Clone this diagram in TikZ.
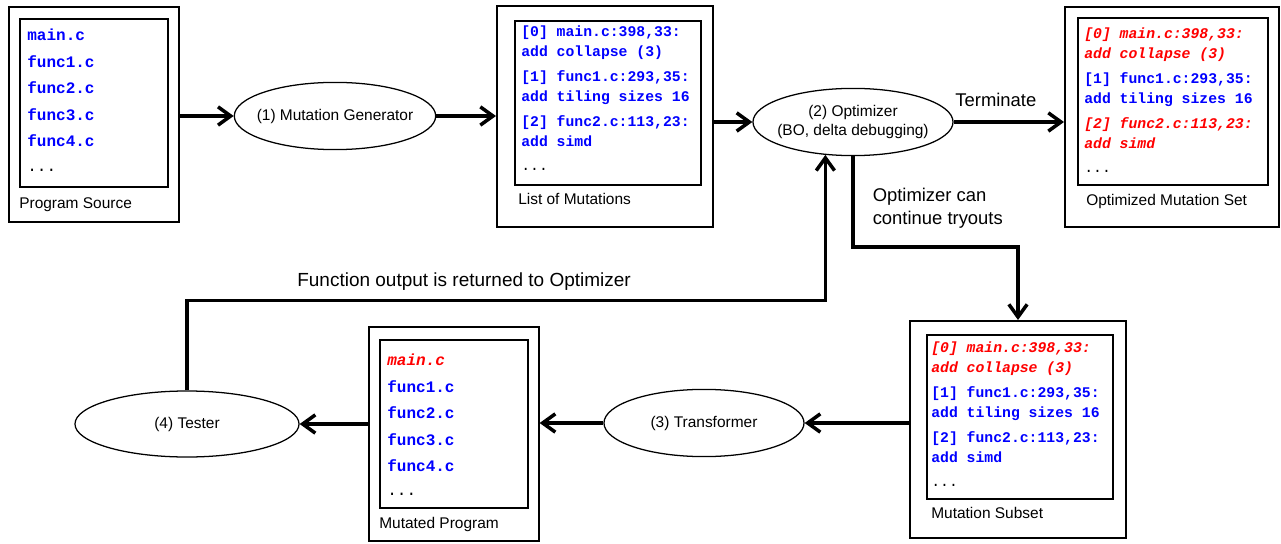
\documentclass[tikz,border=0pt]{standalone}
\usepackage{fontspec}
\setmainfont{Liberation Sans}
\newfontfamily\codefamily{Liberation Mono}
\usetikzlibrary{arrows.meta,shapes.geometric,positioning}

\definecolor{codeblue}{RGB}{0,0,255}
\definecolor{codered}{RGB}{255,0,0}

% blue = mutation listed, red = mutation applied
\newcommand{\listed}[1]{\textcolor{codeblue}{\bfseries #1}}
\newcommand{\applied}[1]{\textcolor{codered}{\bfseries\itshape #1}}

\begin{document}
\begin{tikzpicture}[x=0.025cm, y=-0.025cm,
    frame/.style={draw, line width=1.4pt, inner sep=0pt},
    thinframe/.style={frame, line width=0.9pt},
    pane/.style={draw, line width=1.1pt, inner sep=0pt},
    stage/.style={draw, ellipse, line width=0.9pt, inner ysep=0pt, inner xsep=-5pt, minimum width=5cm, minimum height=1.68cm, align=center, font=\fontsize{11}{14.2}\selectfont},
    listing/.style={anchor=north west, inner sep=0pt, align=left, font=\codefamily\fontsize{10.5}{14.2}\selectfont},
    files/.style={listing, font=\codefamily\fontsize{11.4}{18.8}\selectfont},
    caption/.style={anchor=base west, inner sep=0pt, font=\fontsize{11}{13}\selectfont},
    note/.style={inner sep=0pt, align=left, font=\fontsize{13.1}{16.3}\selectfont},
    flow/.style={-{Straight Barb[length=9pt,width=13pt]}, line width=2.5pt}
]
\useasboundingbox (0,0) rectangle (1281,544);

% top row
\node[thinframe, minimum width=4.25cm, minimum height=5.375cm] (src) at (94,114.5) {};
\node[pane, minimum width=3.7cm, minimum height=4.2cm] (srcPane) at (94,103) {};
\node[files] (srcCode) at (27,29) {\listed{main.c}\\\listed{func1.c}\\\listed{func2.c}\\\listed{func3.c}\\\listed{func4.c}\\[-0.8pt]...};
\node[caption] (srcCap) at (19,208.5) {Program Source};

\node[stage] (gen) at (335,116) {(1) Mutation Generator};

\node[frame, minimum width=5.4cm, minimum height=5.525cm] (list) at (605,116.5) {};
\node[pane, minimum width=4.65cm, minimum height=4.1cm] (listPane) at (608,103) {};
\node[listing] (listCode) at (521,26) {\listed{[0] main.c:398,33:}\\\listed{add collapse (3)}\\[3.3pt]
  \listed{[1] func1.c:293,35:}\\\listed{add tiling sizes 16}\\[3.3pt]
  \listed{[2] func2.c:113,23:}\\\listed{add simd}\\[2.8pt]...};
\node[caption] (listCap) at (518,204.5) {List of Mutations};

\node[stage] (opt) at (853,122) {(2) Optimizer\\(BO, delta debugging)};

\node[frame, minimum width=5.35cm, minimum height=5.5cm] (best) at (1172,117) {};
\node[pane, minimum width=4.75cm, minimum height=4.175cm] (bestPane) at (1173,101.5) {};
\node[listing] (bestCode) at (1084,28) {\applied{[0] main.c:398,33:}\\\applied{add collapse (3)}\\[3.3pt]
  \listed{[1] func1.c:293,35:}\\\listed{add tiling sizes 16}\\[3.3pt]
  \applied{[2] func2.c:113,23:}\\\applied{add simd}\\[2.8pt]...};
\node[caption] (bestCap) at (1086,205.5) {Optimized Mutation Set};

% bottom row
\node[frame, minimum width=5.4cm, minimum height=5.425cm] (sub) at (1018,429.5) {};
\node[pane, minimum width=4.65cm, minimum height=4.1cm] (subPane) at (1020,417) {};
\node[listing] (subCode) at (931,342) {\applied{[0] main.c:398,33:}\\\applied{add collapse (3)}\\[3.3pt]
  \listed{[1] func1.c:293,35:}\\\listed{add tiling sizes 16}\\[3.3pt]
  \listed{[2] func2.c:113,23:}\\\listed{add simd}\\[2.8pt]...};
\node[caption] (subCap) at (931,518.5) {Mutation Subset};

\node[stage] (trans) at (704,423) {(3) Transformer};

\node[thinframe, minimum width=4.25cm, minimum height=5.35cm] (mut) at (454,434) {};
\node[pane, minimum width=3.7cm, minimum height=4.2cm] (mutPane) at (454,424) {};
\node[files] (mutCode) at (387,354) {\applied{main.c}\\\listed{func1.c}\\\listed{func2.c}\\\listed{func3.c}\\\listed{func4.c}\\[-1.5pt]...};
\node[caption] (mutCap) at (379,528.5) {Mutated Program};

\node[stage, minimum width=5.6cm, minimum height=1.65cm] (tst) at (187,424) {(4) Tester};

% connectors
\draw[flow] (src.east |- gen) -- (gen);
\draw[flow] (gen) -- (list.west |- gen);
\draw[flow] (list.east |- opt) -- (opt);
\draw[flow] (opt) -- node[note, anchor=south west, pos=0, yshift=0.34cm] (termNote) {Terminate} (best.west |- opt);
\draw[flow] (opt.south) -- node[note, anchor=west, pos=0.57, xshift=0.45cm] (tryNote) {Optimizer can\\continue tryouts} ++(0,91) -| (sub.north);
\draw[flow] (sub.west |- trans) -- (trans);
\draw[flow] (trans) -- (mut.east |- trans);
\draw[flow] (mut.west |- tst) -- (tst);
\draw[flow] (tst.north) -- ++(0,-90) -| node[note, anchor=south, pos=0.217, yshift=0.215cm, font=\fontsize{13.5}{16}\selectfont] (retNote) {Function output is returned to Optimizer} (opt.230);
\end{tikzpicture}
\end{document}
